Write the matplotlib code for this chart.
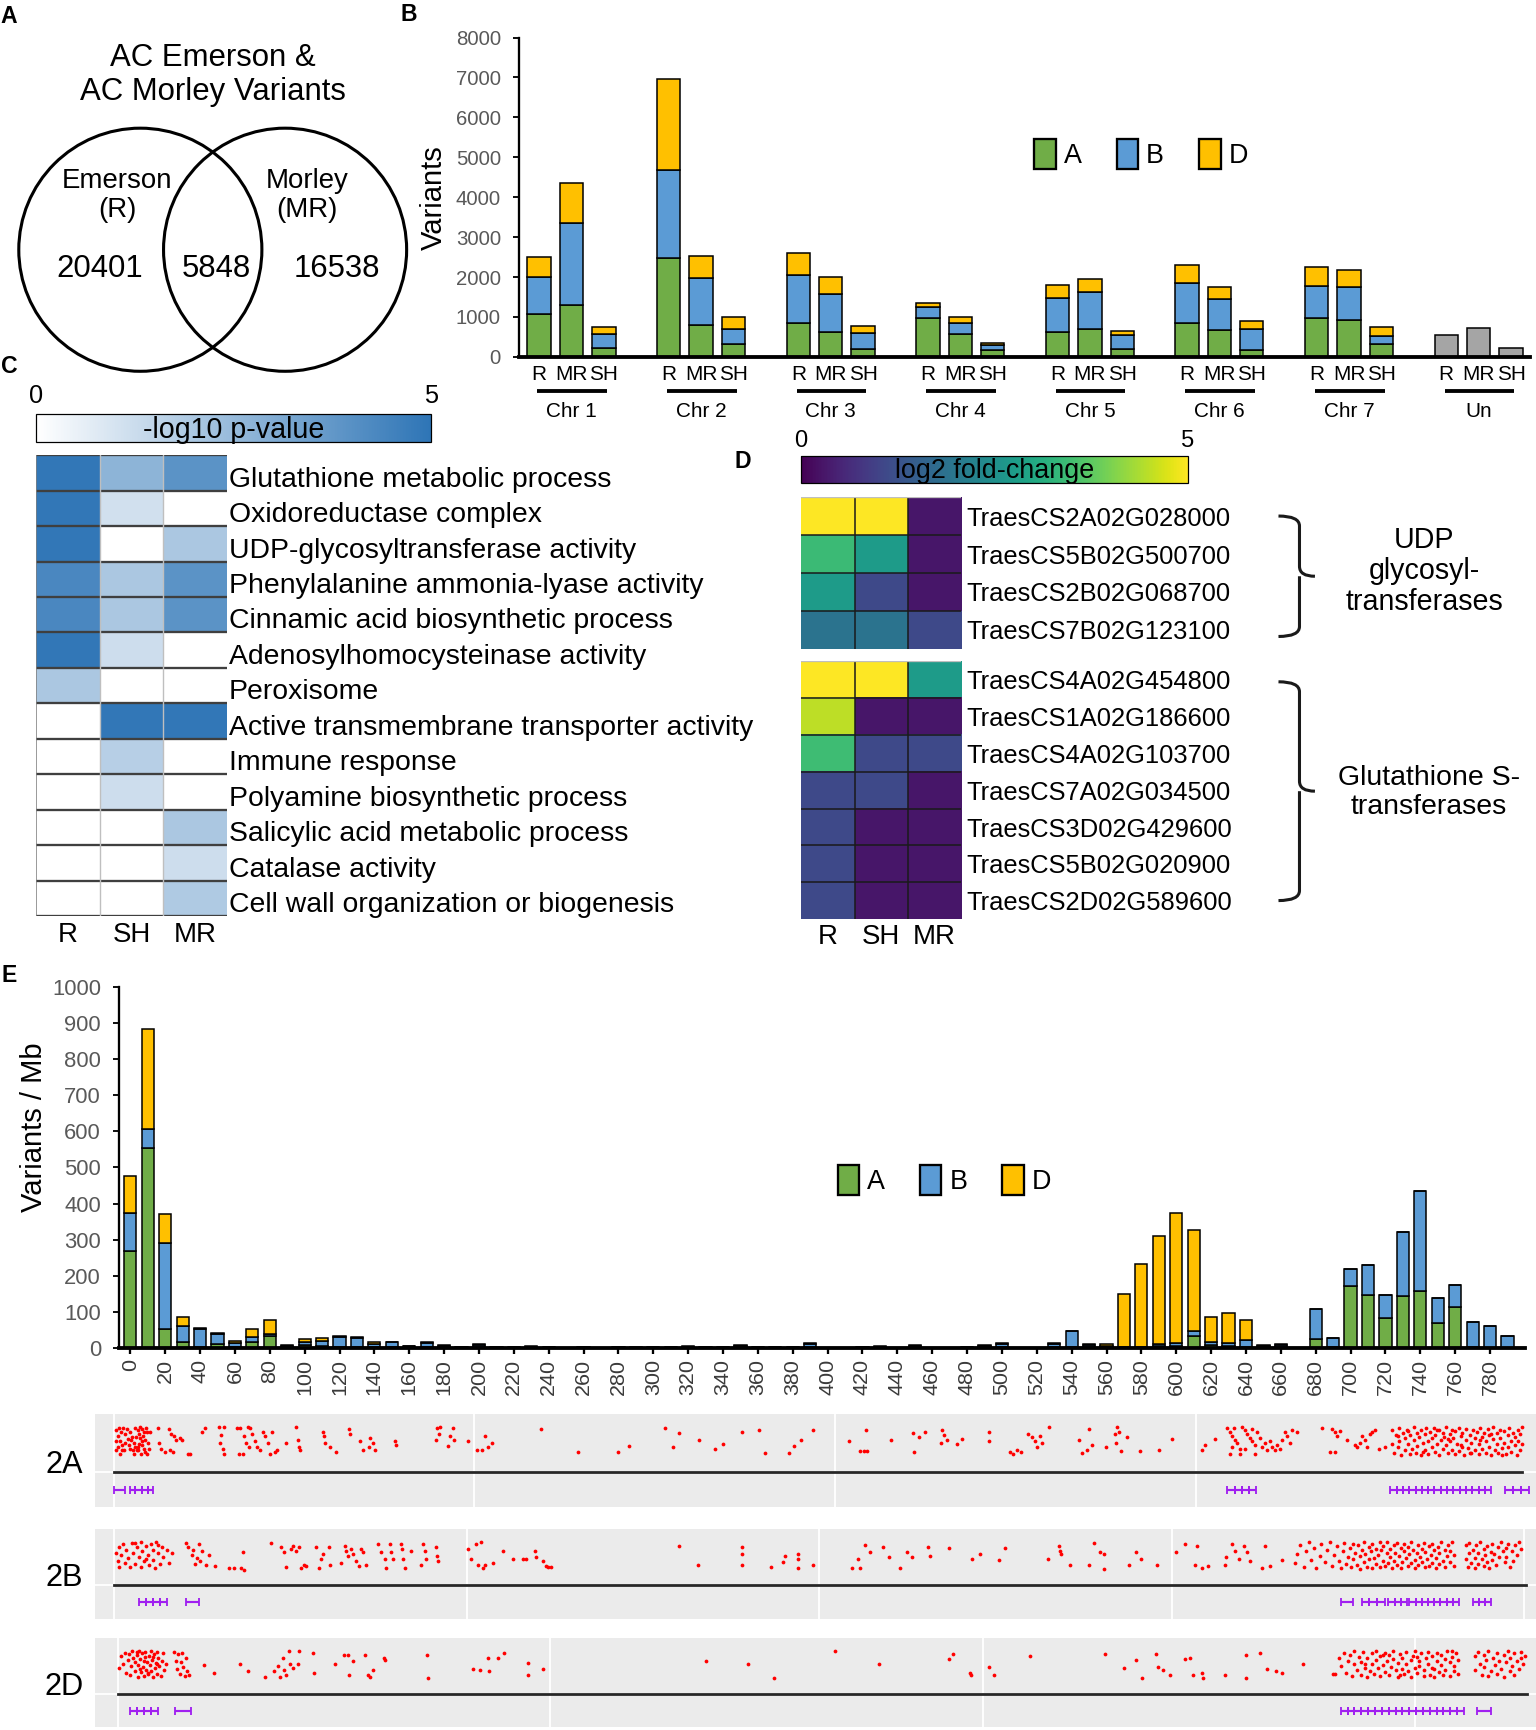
import matplotlib

matplotlib.use("Agg")
import matplotlib.pyplot as plt  # noqa: E402
import matplotlib.transforms as mtransforms  # noqa: E402
import numpy as np  # noqa: E402
from matplotlib.cm import ScalarMappable  # noqa: E402
from matplotlib.colors import LinearSegmentedColormap, Normalize  # noqa: E402
from matplotlib.patches import Circle, Patch, PathPatch  # noqa: E402
from matplotlib.path import Path  # noqa: E402

plt.rcParams["font.family"] = ["Liberation Sans", "DejaVu Sans"]

# canvas in "reference pixels" (reference is 1536x1730 at 1.105 scale)
DPI = 110.5
W, H = 1536 / 1.105, 1730 / 1.105

GREEN, BLUE, GOLD, GREY = "#70AD47", "#5B9BD5", "#FFC000", "#A5A5A5"
TICK_GREY = "#595959"

# ---------------- A: Venn counts ----------------
venn_only_R = 20401
venn_shared = 5848
venn_only_MR = 16538

# ---------------- B: variants per chromosome ----------------
chroms = ["Chr 1", "Chr 2", "Chr 3", "Chr 4", "Chr 5", "Chr 6", "Chr 7", "Un"]
cultivars = ["R", "MR", "SH"]
b_A = [1070, 1300, 235, 2470, 810, 335, 855, 630, 190, 965, 585, 185,
       630, 710, 195, 840, 670, 185, 980, 920, 320]
b_B = [940, 2050, 335, 2200, 1175, 375, 1195, 945, 420, 290, 270, 110,
       835, 905, 350, 1020, 770, 510, 805, 820, 210]
b_D = [500, 1000, 185, 2300, 545, 295, 560, 435, 170, 100, 150, 60,
       335, 330, 100, 445, 320, 200, 455, 435, 225]
b_un = [560, 730, 235]

# ---------------- C: GO enrichment ----------------
go_terms = [
    "Glutathione metabolic process", "Oxidoreductase complex",
    "UDP-glycosyltransferase activity", "Phenylalanine ammonia-lyase activity",
    "Cinnamic acid biosynthetic process", "Adenosylhomocysteinase activity",
    "Peroxisome", "Active transmembrane transporter activity",
    "Immune response", "Polyamine biosynthetic process",
    "Salicylic acid metabolic process", "Catalase activity",
    "Cell wall organization or biogenesis",
]
go_cols = ["R", "SH", "MR"]
go_R = [4.9, 4.9, 4.9, 4.3, 4.3, 4.9, 2.0, 0, 0, 0, 0, 0, 0]
go_SH = [2.7, 1.1, 0, 2.0, 2.0, 1.2, 0, 4.9, 1.7, 1.2, 0, 0, 0]
go_MR = [3.9, 0, 2.0, 3.9, 3.9, 0, 0, 4.9, 0, 0, 2.0, 1.2, 1.9]

# ---------------- D: fold changes ----------------
udp_genes = ["TraesCS2A02G028000", "TraesCS5B02G500700",
             "TraesCS2B02G068700", "TraesCS7B02G123100"]
udp_R = [5.0, 3.4, 2.75, 1.9]
udp_SH = [5.0, 2.75, 1.1, 1.9]
udp_MR = [0.3, 0.3, 0.3, 1.1]
gst_genes = ["TraesCS4A02G454800", "TraesCS1A02G186600", "TraesCS4A02G103700",
             "TraesCS7A02G034500", "TraesCS3D02G429600", "TraesCS5B02G020900",
             "TraesCS2D02G589600"]
gst_R = [5.0, 4.5, 3.45, 1.1, 1.1, 1.1, 1.1]
gst_SH = [5.0, 0.3, 1.1, 1.1, 0.3, 0.3, 0.3]
gst_MR = [2.75, 0.3, 1.1, 0.3, 0.3, 0.3, 0.3]

# ---------------- E: variants / Mb along chr 2 (10 Mb bins) ----------------
e_A = [270, 555, 53, 18, 2, 12, 3, 18, 33, 3, 8, 6, 3, 2, 3, 2, 2, 4, 2, 1,
       3, 1, 1, 2, 1, 0, 1, 0, 1, 1, 1, 1, 2, 1, 1, 3, 1, 1, 1, 3,
       1, 1, 1, 1, 1, 2, 1, 1, 1, 2, 3, 1, 1, 3, 3, 3, 2, 1, 2, 5,
       5, 34, 8, 5, 3, 2, 3, 0, 25, 2, 172, 148, 83, 144, 157, 70, 115, 2, 1, 1]
e_B = [105, 50, 237, 44, 51, 28, 12, 12, 5, 3, 8, 13, 27, 27, 9, 15, 3, 10, 4, 1,
       5, 1, 1, 2, 1, 1, 1, 1, 1, 0, 1, 1, 2, 1, 1, 3, 1, 1, 1, 9,
       0, 0, 1, 3, 0, 4, 0, 0, 1, 4, 8, 0, 0, 8, 45, 5, 4, 1, 2, 5,
       8, 12, 8, 10, 20, 4, 6, 1, 84, 26, 46, 81, 65, 178, 277, 68, 60, 71, 61, 32]
e_D = [100, 277, 80, 25, 2, 2, 5, 23, 40, 3, 9, 8, 3, 1, 4, 1, 2, 3, 2, 1,
       3, 1, 1, 2, 1, 0, 0, 0, 0, 1, 0, 1, 1, 0, 1, 3, 1, 1, 1, 3,
       0, 0, 1, 1, 0, 2, 0, 0, 1, 2, 3, 0, 0, 2, 0, 2, 4, 148, 230, 300,
       360, 282, 71, 82, 56, 2, 3, 0, 0, 0, 0, 0, 0, 0, 0, 0, 0, 0, 0, 0]
e_bin_mb = list(range(0, 800, 10))

# ---------------- tracks: variant positions (Mb, jitter level 0-10) ----------------
chr_len = {"2A": 780.8, "2B": 801.3, "2D": 651.9}
dots_2A = [
    (1.2, 8.8), (2.9, 9.4), (4.0, 8.1), (2.3, 6.9), (3.5, 5.0), (2.1, 3.1), (4.8, 1.9),
    (3.5, 0.6), (6.2, 7.5), (7.6, 9.1), (9.0, 8.1), (9.6, 5.6), (8.4, 3.8), (10.4, 1.9),
    (11.2, 0.6), (11.8, 9.6), (13.2, 8.8), (14.0, 7.5), (14.5, 6.3), (15.4, 5.0),
    (15.9, 3.8), (16.8, 2.5), (17.3, 1.3), (17.9, 9.6), (18.7, 8.1), (15.1, 0.6),
    (13.2, 3.1), (11.2, 4.6), (12.3, 6.6), (6.2, 4.4), (5.7, 1.9), (19.0, 4.4),
    (19.5, 2.5), (10.1, 6.6), (15.9, 9.1), (17.3, 5.6), (13.7, 1.9), (16.5, 8.1),
    (11.8, 3.1), (7.9, 5.9), (4.6, 3.8), (1.5, 1.9), (18.2, 0.6), (14.6, 9.8),
    (12.8, 2.2), (16.0, 6.8), (9.2, 2.4), (5.2, 9.5), (1.0, 5.2), (13.9, 4.2),
    (20.1, 8.1), (24.3, 9.4), (25.1, 4.4), (26.2, 2.5), (28.4, 1.3), (30.6, 9.1),
    (31.7, 7.5), (32.6, 1.3), (33.4, 6.9), (34.5, 5.6), (36.7, 6.3), (38.1, 5.6),
    (40.9, 0.6), (42.3, 0.6), (31.2, 1.9), (49.2, 8.1), (50.6, 9.6),
    (58.4, 10.0), (59.5, 7.1), (61.1, 10.0), (58.9, 4.4), (60.3, 2.5), (61.1, 0.6),
    (68.6, 9.6), (70.0, 9.4), (72.2, 6.9), (73.3, 4.4), (74.2, 10.0), (75.6, 9.4),
    (76.9, 7.5), (78.3, 5.0), (79.7, 3.1), (81.1, 1.9), (82.5, 8.1), (83.9, 6.9),
    (85.3, 4.4), (86.6, 0.6), (88.0, 8.1), (89.4, 1.3), (90.8, 1.9), (71.4, 0.6),
    (69.5, 0.6), (75.0, 3.1), (95.5, 4.4), (101.1, 10.0), (101.9, 5.6), (102.7, 3.1),
    (103.3, 1.9), (115.8, 8.1), (116.6, 6.9), (117.1, 4.4), (119.9, 3.1), (123.2, 1.3),
    (130.2, 9.1), (131.0, 7.5), (136.6, 5.0), (138.0, 1.9), (142.1, 6.3), (143.5, 4.4),
    (144.9, 1.9), (141.5, 3.1), (156.0, 5.0), (156.8, 3.8), (179.5, 9.4), (180.9, 10.0),
    (178.7, 5.6), (180.4, 7.5), (186.5, 6.9), (187.9, 9.4), (188.7, 5.6), (185.6, 3.4),
    (196.2, 5.0), (201.7, 1.9), (204.5, 1.9), (205.9, 6.9), (207.3, 3.1), (210.0, 4.4),
    (237.2, 9.1), (257.2, 1.3), (279.4, 1.3), (285.7, 3.4), (305.7, 9.4), (309.9, 3.1),
    (313.5, 7.9), (324.6, 5.4), (333.4, 2.5), (338.1, 4.1), (348.7, 8.3), (357.6, 8.9),
    (361.2, 1.0), (374.4, 0.9), (377.2, 3.4), (381.0, 5.6), (388.0, 8.8), (407.7, 5.0),
    (413.8, 1.6), (416.0, 1.6), (417.9, 1.6), (417.4, 8.8), (431.2, 5.6), (443.4, 7.8),
    (443.7, 1.3), (446.5, 6.6), (449.8, 8.1), (459.5, 8.8), (460.3, 7.1), (458.7, 4.4),
    (462.3, 5.4), (467.8, 4.1), (470.6, 5.9), (485.3, 8.1), (485.3, 5.0), (497.0, 1.3),
    (498.9, 0.6), (501.1, 1.9), (503.1, 1.3), (507.2, 7.5), (509.4, 6.6), (510.8, 5.0),
    (512.2, 3.1), (513.6, 6.9), (515.0, 4.4), (518.6, 9.8), (535.2, 5.6), (537.2, 0.9),
    (539.9, 2.1), (540.8, 9.1), (542.7, 3.8), (550.2, 3.1), (555.2, 7.5), (556.6, 10.0),
    (557.4, 8.1), (555.7, 4.4), (562.1, 6.6), (558.5, 1.6), (569.0, 1.6), (579.6, 2.1),
    (587.1, 5.9), (603.7, 1.9), (605.1, 3.8), (610.6, 5.9), (617.6, 9.4), (619.0, 8.1),
    (620.4, 6.9), (621.7, 5.6), (623.1, 4.4), (624.5, 2.5), (625.9, 10.0), (627.3, 8.8),
    (628.7, 7.5), (630.1, 6.3), (631.4, 5.0), (632.8, 3.8), (634.2, 8.1), (619.0, 0.6),
    (624.5, 0.6), (632.8, 0.6), (637.0, 3.1), (638.4, 4.4), (639.8, 1.9), (641.2, 5.0),
    (642.5, 3.1), (643.9, 1.9), (645.3, 3.8), (646.7, 2.5), (648.1, 5.6), (649.5, 8.1),
    (650.9, 6.9), (652.2, 4.4), (653.6, 8.8), (656.4, 8.1), (620.4, 3.1), (627.3, 2.5),
    (621.2, 9.6), (631.4, 9.1), (635.6, 6.3), (670.3, 9.6), (674.4, 1.3), (677.2, 1.3),
    (675.8, 9.1), (677.2, 8.1), (678.6, 6.9), (680.0, 8.4), (684.1, 5.6), (688.3, 3.8),
    (691.1, 4.4), (692.4, 6.9), (693.8, 5.6), (695.2, 3.1), (696.6, 7.5), (698.0, 8.1),
    (699.4, 8.8), (689.7, 3.1), (701.6, 2.5), (705.0, 3.1),
    (709, 9.0), (709, 4.0), (710, 1.0), (711, 7.0), (712, 3.0), (713, 9.5), (713, 5.0),
    (714, 0.5), (715, 8.0), (716, 2.0), (716, 6.0), (717, 9.0), (718, 4.0), (719, 0.8),
    (719, 7.0), (720, 2.5), (721, 9.8), (721, 5.5), (722, 1.0), (723, 8.0), (723, 3.5),
    (724, 6.5), (725, 0.4), (725, 9.0), (726, 4.5), (727, 7.5), (727, 2.0), (728, 9.5),
    (729, 5.0), (729, 0.7), (730, 8.3), (731, 3.0), (731, 6.0), (732, 9.6), (733, 1.5),
    (733, 7.0), (734, 4.0), (735, 9.0), (735, 0.5), (736, 5.5), (737, 8.0), (737, 2.5),
    (738, 6.5), (739, 9.8), (739, 3.8), (740, 1.0), (741, 7.5), (741, 5.0), (742, 9.0),
    (742, 2.0), (743, 6.0), (744, 0.6), (744, 8.5), (745, 4.0), (746, 9.5), (746, 1.8),
    (747, 6.8), (748, 3.0), (748, 8.0), (749, 0.5), (750, 5.5), (750, 9.3), (751, 2.8),
    (752, 7.2), (753, 1.0), (753, 4.6), (754, 9.0), (755, 6.0), (755, 2.0), (756, 8.2),
    (757, 0.6), (757, 4.0), (758, 9.7), (759, 6.5), (759, 2.5), (760, 8.0), (761, 1.0),
    (761, 5.0), (762, 9.2), (763, 3.0), (763, 7.0), (764, 0.5), (765, 5.8), (765, 9.8),
    (766, 2.0), (767, 7.8), (767, 4.2), (768, 0.9), (769, 9.0), (769, 6.0), (770, 2.6),
    (771, 8.5), (771, 4.5), (772, 0.6), (773, 7.0), (773, 3.0), (774, 9.6), (775, 5.2),
    (775, 1.2), (776, 8.0), (777, 3.6), (777, 6.5), (778, 0.4), (779, 9.0), (779, 5.0),
    (780, 2.0), (780, 7.5), (781, 9.8), (781, 4.0), (712, 6.8), (718, 8.6), (726, 1.4),
    (734, 8.8), (740, 5.8), (747, 3.8), (752, 0.9), (758, 5.6), (764, 7.6), (770, 0.4),
]
dots_2B = [
    (1, 6.0), (2, 3.0), (3, 8.0), (3, 1.0), (4, 5.0), (5, 9.0), (6, 2.5), (7, 7.0),
    (8, 4.0), (9, 0.8), (10, 9.5), (11, 6.0), (12, 2.0), (13, 8.0), (14, 4.5), (15, 1.0),
    (15, 9.8), (16, 6.5), (17, 3.0), (18, 8.5), (19, 5.0), (20, 1.5), (21, 9.0), (22, 7.0),
    (22, 3.5), (23, 0.7), (24, 9.6), (25, 6.0), (26, 2.0), (27, 8.0), (28, 4.5), (30, 7.0),
    (31, 2.5), (33, 6.0), (41, 9.5), (42, 8.0), (44, 5.0), (45, 7.0), (46, 2.0), (47, 4.0),
    (48, 9.0), (49, 3.0), (50, 6.5), (52, 1.5), (54, 5.0), (12, 9.4), (18, 3.8), (25, 8.8),
    (57.4, 1.2), (65.0, 0.6), (67.8, 0.6), (72.1, 0.6), (73.5, 0.0), (72.9, 6.1),
    (89.1, 9.5), (94.7, 7.9), (96.2, 6.1), (97.6, 1.0), (100.4, 7.3), (101.8, 8.5),
    (103.2, 6.7), (104.7, 7.9), (106.1, 0.6), (107.5, 1.8), (108.9, 1.2), (114.6, 7.9),
    (116.0, 0.6), (117.4, 3.7), (118.8, 5.5), (121.7, 7.9), (122.5, 1.8), (128.7, 2.4),
    (131.0, 8.5), (131.6, 6.7), (133.0, 4.9), (134.4, 7.3), (135.8, 5.5), (137.2, 3.0),
    (138.7, 1.2), (140.1, 7.3), (141.5, 6.1), (142.9, 1.8), (150.0, 9.1), (151.4, 6.1),
    (153.7, 3.7), (154.2, 0.6), (156.5, 9.1), (157.1, 6.1), (158.5, 3.7), (162.7, 9.1),
    (163.6, 7.3), (164.2, 3.7), (165.0, 0.6), (168.4, 6.7), (174.1, 1.8), (175.5, 9.1),
    (176.3, 6.7), (176.9, 3.7), (182.6, 7.9), (183.1, 4.9), (184.0, 3.0), (201.0, 7.3),
    (202.4, 3.7), (205.2, 9.1), (206.6, 1.8), (208.1, 9.8), (209.5, 0.6), (210.3, 1.8),
    (215.1, 2.4), (220.8, 6.7), (226.5, 3.7), (232.1, 3.7), (233.6, 3.9), (238.7, 6.7),
    (239.2, 4.3), (243.5, 3.0), (244.9, 1.2), (246.3, 1.0), (247.7, 1.0), (320.5, 8.5),
    (331.3, 1.8), (356.2, 7.9), (356.2, 5.5), (356.2, 1.8), (372.9, 1.0),
    (379.5, 2.7), (380.4, 4.9), (388.0, 5.5), (388.0, 3.7), (388.0, 0.6), (396.5, 1.8),
    (418.6, 0.6), (422.0, 3.7), (423.5, 0.6), (426.3, 8.8), (429.1, 6.1), (436.2, 7.9),
    (439.9, 4.6), (446.1, 0.6), (449.8, 6.1), (452.6, 4.3), (462.0, 7.9), (463.1, 4.9),
    (473.6, 7.7), (486.6, 3.7), (491.5, 5.5), (502.2, 3.3), (505.6, 7.7), (529.7, 3.7),
    (536.2, 8.5), (536.8, 6.7), (537.3, 5.5), (542.4, 1.8), (553.2, 1.6), (555.8, 9.5),
    (559.4, 6.1), (561.7, 5.5), (561.7, 0.4), (575.9, 1.8), (579.9, 6.1), (582.7, 3.7),
    (591.5, 1.8), (602.8, 6.1), (607.6, 9.1), (613.3, 1.8), (614.7, 8.3), (617.5, 0.6),
    (620.4, 1.2), (630.3, 1.8), (631.1, 4.3), (634.5, 9.1), (635.9, 6.7), (638.2, 3.7),
    (641.0, 8.5), (643.0, 6.1), (644.4, 3.0), (652.9, 8.5), (651.5, 0.6), (655.8, 1.2),
    (662.9, 3.4),
    (670, 2.2), (671, 5.5), (673, 8.8), (675, 1.0), (676, 6.5), (678, 9.6), (679, 3.5),
    (681, 7.8), (682, 0.6), (684, 4.8), (685, 9.2), (687, 2.6), (688, 6.8), (690, 9.8),
    (691, 1.4), (692, 5.0), (694, 8.2), (695, 3.0), (696, 0.5), (697, 6.4), (698, 9.4),
    (699, 2.0), (700, 4.4), (701, 7.6), (702, 0.8), (703, 9.0), (703, 3.6), (704, 6.0),
    (705, 1.6), (706, 8.6), (707, 4.8), (707, 0.4), (708, 7.0), (709, 2.8), (709, 9.8),
    (710, 5.6), (711, 1.0), (712, 8.0), (712, 3.8), (713, 6.4), (714, 0.6), (714, 9.2),
    (715, 4.2), (716, 7.4), (716, 2.0), (717, 5.2), (718, 9.6), (718, 0.9), (719, 6.8),
    (720, 3.2), (720, 8.4), (721, 1.4), (722, 5.8), (722, 9.8), (723, 2.4), (724, 7.2),
    (724, 4.4), (725, 0.5), (726, 8.8), (726, 3.0), (727, 6.0), (728, 1.8), (728, 9.4),
    (729, 4.8), (730, 7.6), (730, 0.7), (731, 2.6), (732, 6.6), (732, 9.0), (733, 4.0),
    (734, 1.2), (734, 8.0), (735, 5.4), (736, 2.2), (736, 9.7), (737, 7.0), (738, 3.4),
    (738, 0.5), (739, 5.8), (740, 8.6), (740, 1.6), (741, 4.6), (742, 7.4), (742, 2.8),
    (743, 9.4), (744, 0.9), (744, 6.2), (745, 3.8), (746, 8.2), (746, 1.2), (747, 5.0),
    (748, 9.0), (748, 2.4), (749, 6.8), (750, 0.6), (750, 4.2), (751, 8.0), (752, 2.0),
    (752, 6.0), (753, 9.6), (754, 3.2), (755, 7.0), (755, 0.8), (756, 4.8), (757, 8.8),
    (758, 2.6), (758, 6.4), (759, 9.8), (760, 1.4), (760, 5.2), (767, 3.8), (767, 8.6),
    (768, 0.8), (769, 5.8), (769, 9.4), (770, 2.4), (771, 7.0), (772, 4.2), (772, 0.6),
    (773, 8.8), (774, 2.0), (774, 6.0), (775, 9.6), (776, 3.6), (777, 7.4), (777, 1.2),
    (778, 5.0), (779, 8.4), (779, 2.8), (780, 0.7), (781, 6.2), (782, 9.2), (782, 3.4),
    (783, 5.6), (784, 1.8), (785, 8.0), (786, 4.4), (787, 9.6), (788, 6.6), (789, 2.6),
    (790, 7.8), (790, 4.6), (791, 9.0), (792, 1.0), (793, 6.4), (794, 3.0), (795, 8.6),
    (796, 5.2), (797, 9.8), (798, 7.2),
]
dots_2D = [
    (0.5, 3.6), (1.5, 7.8), (2.2, 5.0), (3.0, 9.0), (3.8, 2.0), (4.4, 6.4), (5.0, 8.6),
    (5.5, 1.0), (6.0, 4.2), (6.6, 9.6), (7.0, 7.0), (7.6, 2.6), (8.0, 5.6), (8.5, 8.2),
    (9.0, 0.6), (9.4, 4.6), (9.8, 9.8), (10.2, 6.8), (10.6, 2.2), (11.0, 8.8), (11.4, 4.0),
    (11.8, 0.8), (12.2, 7.4), (12.6, 9.4), (13.0, 3.0), (13.4, 5.8), (13.8, 1.4),
    (14.2, 8.0), (14.6, 4.8), (15.0, 9.8), (15.4, 2.4), (15.8, 6.6), (16.2, 0.5),
    (16.6, 8.6), (17.0, 3.6), (17.4, 5.4), (17.8, 9.2), (18.2, 1.6), (18.6, 7.2),
    (19.0, 4.4), (19.6, 0.8), (20.2, 6.0), (20.8, 8.8), (21.4, 2.8), (22.0, 5.0),
    (12.0, 6.2), (14.0, 2.0), (16.0, 7.6), (10.0, 3.4), (8.8, 9.2), (18.0, 5.2),
    (26.0, 9.4), (26.6, 6.2), (27.2, 3.2), (27.8, 8.6), (28.4, 1.6), (29.0, 5.6),
    (29.6, 9.0), (30.2, 4.0), (30.8, 0.8), (31.4, 7.0), (32.0, 2.6), (32.8, 1.0),
    (39.8, 4.6), (44.4, 1.8), (56.4, 5.2), (59.9, 2.7), (68.0, 0.6), (72.2, 2.4),
    (73.8, 4.3), (74.9, 0.6), (76.1, 7.3), (76.8, 3.0), (77.7, 1.2), (79.1, 9.5),
    (79.6, 4.9), (80.7, 3.7), (83.1, 4.9), (83.7, 9.5), (90.0, 9.1), (90.4, 1.8),
    (100.4, 4.9), (104.6, 8.3), (106.2, 8.3), (106.7, 1.2), (108.5, 6.1), (114.3, 8.3),
    (115.4, 1.2), (116.6, 0.6), (117.8, 3.0), (123.1, 7.1), (123.6, 6.3), (142.8, 8.3),
    (143.2, 0.2), (164.1, 3.4), (167.5, 3.0), (171.0, 7.3), (171.7, 2.4), (175.6, 7.1),
    (178.6, 8.8), (189.5, 5.5), (189.5, 1.2), (196.5, 3.4), (272.2, 6.1), (291.4, 5.1),
    (303.6, 0.2), (331.8, 9.5), (352.2, 5.2), (384.6, 6.7), (386.2, 8.5), (394.3, 1.8),
    (394.8, 1.2), (403.1, 3.9), (405.0, 1.0), (422.1, 7.8), (456.8, 8.5), (465.2, 3.7),
    (470.7, 6.5), (473.5, 0.2), (480.0, 8.5), (481.1, 3.9), (483.5, 3.0), (486.5, 1.2),
    (493.4, 6.7), (495.7, 7.3), (497.3, 1.2), (501.3, 1.8), (501.7, 0.2), (511.9, 1.0),
    (521.7, 8.3), (521.7, 0.2), (528.1, 8.8), (531.4, 3.3), (535.5, 2.4), (538.3, 1.8),
    (548.3, 4.9), (562.2, 1.5),
    (563, 1.4), (565, 7.2), (566, 4.4), (567, 9.0), (568, 2.0), (569, 6.0), (570, 8.4),
    (571, 0.8), (572, 5.0), (572, 9.8), (573, 3.0), (574, 7.4), (575, 1.2), (575, 5.8),
    (576, 9.2), (577, 3.8), (578, 7.0), (578, 0.5), (579, 2.6), (580, 8.8), (580, 5.2),
    (581, 1.6), (582, 6.6), (582, 9.6), (583, 3.6), (584, 7.8), (584, 0.9), (585, 4.6),
    (586, 9.0), (586, 2.2), (587, 6.2), (588, 8.2), (588, 1.0), (589, 4.0), (590, 9.8),
    (590, 6.8), (591, 2.8), (592, 0.6), (592, 5.4), (593, 8.6), (594, 3.2), (594, 7.2),
    (595, 1.4), (596, 9.4), (596, 5.0), (597, 2.4), (598, 6.6), (598, 0.5), (599, 8.0),
    (600, 3.8), (600, 9.8), (601, 1.8), (602, 6.0), (602, 4.2), (603, 8.8), (604, 0.8),
    (604, 2.8), (605, 7.0), (606, 5.2), (606, 9.4), (607, 1.2), (608, 3.6), (608, 7.8),
    (609, 0.5), (610, 6.2), (610, 9.0), (611, 2.2), (612, 4.8), (612, 8.4), (613, 1.0),
    (614, 6.8), (614, 3.0), (615, 9.6), (616, 5.6), (616, 0.7), (617, 7.6), (618, 2.6),
    (618, 4.4), (619, 8.8), (620, 1.6), (620, 6.4), (577, 5.0), (585, 8.4), (593, 1.2),
    (601, 7.4), (609, 3.2), (617, 9.8),
    (628, 7.8), (628, 3.0), (629, 9.4), (630, 5.2), (631, 1.2), (632, 8.2), (632, 4.0),
    (633, 6.4), (634, 0.8), (634, 9.6), (635, 2.6), (636, 7.0), (637, 4.8), (638, 9.0),
    (638, 1.6), (639, 6.0), (640, 3.4), (641, 8.4), (641, 0.5), (642, 5.6), (643, 9.8),
    (644, 2.4), (644, 7.2), (645, 4.2), (646, 1.0), (646, 8.8), (647, 6.0), (648, 3.2),
    (649, 9.4), (649, 7.0), (650, 5.0), (651, 8.0),
]
# candidate intervals (start, end) in Mb
spans_2A = [(0, 6), (9, 12), (12, 15.5), (15.5, 19), (19, 22),
            (617.6, 621.6), (621.6, 625.6), (625.6, 629.6), (629.6, 633.6),
            (708, 711.5), (711.5, 715), (715, 718.5), (718.5, 722), (722, 725.5),
            (725.5, 729), (729, 732.5), (732.5, 736), (736, 739.5), (739.5, 743),
            (743, 746.5), (746.5, 750), (750, 753.5), (753.5, 757), (757, 760.5),
            (760.5, 764), (771.5, 776), (776, 780.5), (780.5, 785)]
spans_2B = [(14, 18), (18, 22), (22, 26), (26, 30), (41, 48), (696, 703),
            (708, 712.3), (712.3, 716.6), (716.6, 721), (723, 726.5), (726.5, 730),
            (730, 733.5), (735, 738.5), (738.5, 742), (742, 745.5), (745.5, 749),
            (749, 752.5), (752.5, 756), (756, 759.5), (759.5, 763),
            (771, 774.5), (774.5, 778), (778, 781.5)]
spans_2D = [(5.4, 8.6), (8.6, 11.9), (11.9, 15.1), (15.1, 18.4), (26.5, 33.5),
            (565.6, 568.8), (568.8, 572.0), (572.0, 575.1), (575.1, 578.3),
            (578.3, 581.5), (581.5, 584.7), (584.7, 587.8), (587.8, 591.0),
            (591.0, 594.2), (594.2, 597.3), (597.3, 600.5), (600.5, 603.7),
            (603.7, 606.9), (606.9, 610.0), (610.0, 613.2), (613.2, 616.4),
            (616.4, 619.5), (619.5, 622.7), (628.7, 635.3)]


def box(x0, y0, x1, y1):
    """Axes rectangle from reference-pixel corners (y downward)."""
    return [x0 / W, 1 - y1 / H, (x1 - x0) / W, (y1 - y0) / H]


fig = plt.figure(figsize=(1536 / DPI, 1730 / DPI), dpi=DPI)
ov = fig.add_axes([0, 0, 1, 1])
ov.set_xlim(0, W)
ov.set_ylim(H, 0)
ov.axis("off")

for lab, (x, y) in zip("ABCDE", [(8, 15), (370, 13), (8, 332), (672, 418), (8, 883)]):
    ov.text(x, y, lab, fontsize=15, fontweight="bold", ha="center", va="center")

# ---------------- A ----------------
ov.text(193, 68, "AC Emerson &\nAC Morley Variants", fontsize=20.3, ha="center",
        va="center", linespacing=1.2)
ov.add_patch(Circle((127, 226), 110, fill=False, lw=2, ec="black"))
ov.add_patch(Circle((258, 226), 110, fill=False, lw=2, ec="black"))
ov.text(106, 177, "Emerson\n(R)", fontsize=18, ha="center", va="center", linespacing=1.15)
ov.text(278, 177, "Morley\n(MR)", fontsize=18, ha="center", va="center", linespacing=1.15)
for x, v in [(90, venn_only_R), (196, venn_shared), (305, venn_only_MR)]:
    ov.text(x, 243, f"{v}", fontsize=20.3, ha="center", va="center")

# ---------------- B ----------------
axB = fig.add_axes(box(470, 34, 1385, 323))
pos = np.array([4 * g + j for g in range(7) for j in range(3)])
pos_un = np.array([28, 29, 30])
bA, bB, bD = np.array(b_A), np.array(b_B), np.array(b_D)
kw = dict(width=0.72, edgecolor="black", linewidth=1.0)
axB.bar(pos, bA, color=GREEN, **kw)
axB.bar(pos, bB, bottom=bA, color=BLUE, **kw)
axB.bar(pos, bD, bottom=bA + bB, color=GOLD, **kw)
axB.bar(pos_un, b_un, color=GREY, **kw)
axB.set_xlim(-0.61, 30.6)
axB.set_ylim(0, 8000)
axB.set_yticks(range(0, 8001, 1000))
axB.tick_params(axis="y", labelsize=13.3, labelcolor=TICK_GREY, length=4, width=1.2, pad=8)
axB.set_xticks(np.concatenate([pos, pos_un]))
axB.set_xticklabels(cultivars * 8, fontsize=13.5)
axB.tick_params(axis="x", length=0, pad=5)
for s in ["top", "right"]:
    axB.spines[s].set_visible(False)
axB.spines["left"].set_linewidth(1.5)
axB.spines["bottom"].set_linewidth(2.5)
axB.set_ylabel("Variants", fontsize=19)
axB.yaxis.set_label_coords(-0.071, 0.5)
trB = mtransforms.blended_transform_factory(axB.transData, axB.transAxes)
for g, name in enumerate(chroms):
    axB.plot([4 * g - 0.05, 4 * g + 2.1], [-0.108, -0.108], transform=trB,
             clip_on=False, color="black", lw=2.5, solid_capstyle="butt")
    axB.text(4 * g + 1, -0.17, name, transform=trB, ha="center", va="center", fontsize=13.5)
hB = [Patch(facecolor=c, edgecolor="black", linewidth=1.5) for c in (GREEN, BLUE, GOLD)]
axB.legend(hB, ["A", "B", "D"], loc="center", bbox_to_anchor=(0.615, 0.635), ncol=3,
           frameon=False, fontsize=17.5, handlelength=0.8, handleheight=1.3,
           handletextpad=0.3, columnspacing=1.3)

# ---------------- C ----------------
blues = LinearSegmentedColormap.from_list("wb", ["#FFFFFF", "#2E75B6"])
axCb = fig.add_axes(box(33, 375, 390, 400))
cb = fig.colorbar(ScalarMappable(Normalize(0, 5), blues), cax=axCb, orientation="horizontal")
cb.outline.set_linewidth(0.8)
axCb.xaxis.set_ticks_position("top")
cb.set_ticks([0, 5])
axCb.tick_params(length=0, labelsize=16.5, pad=4)
axCb.text(0.5, 0.45, "-log10 p-value", transform=axCb.transAxes, ha="center",
          va="center", fontsize=18.7)

axC = fig.add_axes(box(33, 412, 205, 829))
go = np.array([go_R, go_SH, go_MR]).T
axC.imshow(go, cmap=blues, vmin=0, vmax=5, aspect="auto", interpolation="nearest")
for y in np.arange(-0.5, len(go_terms)):
    axC.axhline(y, color="#3F3F3F", lw=1.5)
for x in [0.5, 1.5]:
    axC.axvline(x, color="#BFBFBF", lw=0.9)
axC.axvline(-0.5, color="#7F7F7F", lw=1.0)
for s in axC.spines.values():
    s.set_visible(False)
axC.yaxis.tick_right()
axC.set_yticks(range(len(go_terms)))
axC.set_yticklabels(go_terms, fontsize=18.5)
axC.set_xticks(range(3))
axC.set_xticklabels(go_cols, fontsize=18)
axC.tick_params(length=0, pad=1.5)
axC.tick_params(axis="x", pad=4)
# labels sit a few pixels below the row centres in the reference
shift = mtransforms.ScaledTranslation(0, -2.4 / 72, fig.dpi_scale_trans)
for t in axC.get_yticklabels():
    t.set_transform(t.get_transform() + shift)

# ---------------- D ----------------
axDb = fig.add_axes(box(725, 413, 1075, 437))
cbD = fig.colorbar(ScalarMappable(Normalize(0, 5), "viridis"), cax=axDb, orientation="horizontal")
cbD.outline.set_linewidth(0.8)
axDb.xaxis.set_ticks_position("top")
cbD.set_ticks([0, 5])
axDb.tick_params(length=0, labelsize=15.5, pad=3)
axDb.text(0.5, 0.45, "log2 fold-change", transform=axDb.transAxes, ha="center",
          va="center", fontsize=17.5)


def fold_heatmap(rect, genes, vals, show_cols):
    ax = fig.add_axes(box(*rect))
    ax.imshow(np.array(vals).T, cmap="viridis", vmin=0, vmax=5, aspect="auto",
              interpolation="nearest")
    for y in np.arange(0.5, len(genes) - 1):
        ax.axhline(y, color="#1A1A1A", lw=1.0)
    for x in [0.5, 1.5]:
        ax.axvline(x, color="#1A1A1A", lw=1.0)
    for s in ax.spines.values():
        s.set_visible(False)
    ax.axhline(-0.5, color="#BFBFBF", lw=1.5)
    ax.yaxis.tick_right()
    ax.set_yticks(range(len(genes)))
    ax.set_yticklabels(genes, fontsize=16.6)
    ax.set_xticks(range(3))
    ax.set_xticklabels(go_cols if show_cols else [""] * 3, fontsize=18)
    ax.tick_params(length=0, pad=3)
    return ax


fold_heatmap((725, 450, 870, 587), udp_genes, [udp_R, udp_SH, udp_MR], False)
fold_heatmap((725, 598, 870, 832), gst_genes, [gst_R, gst_SH, gst_MR], True)


def brace(x, y0, y1, stem=19, tip=33, r=9):
    ym = (y0 + y1) / 2
    xs, xt = x + stem, x + tip
    verts = [(x, y0), (xs, y0), (xs, y0 + r), (xs, ym - r), (xs, ym), (xt, ym),
             (xs, ym), (xs, ym + r), (xs, y1 - r), (xs, y1), (x, y1)]
    codes = [Path.MOVETO, Path.CURVE3, Path.CURVE3, Path.LINETO, Path.CURVE3, Path.CURVE3,
             Path.MOVETO, Path.CURVE3, Path.LINETO, Path.CURVE3, Path.CURVE3]
    ov.add_patch(PathPatch(Path(verts, codes), fill=False, lw=2, ec="#1A1A1A"))


brace(1157, 467, 576)
brace(1157, 617, 815)
ov.text(1289, 517, "UDP\nglycosyl-\ntransferases", fontsize=18.7, ha="center",
        va="center", linespacing=1.13)
ov.text(1293, 717, "Glutathione S-\ntransferases", fontsize=18.6, ha="center",
        va="center", linespacing=1.13)

# ---------------- E ----------------
axE = fig.add_axes(box(108, 893, 1380, 1220))
eA, eB, eD = np.array(e_A), np.array(e_B), np.array(e_D)
xb = np.arange(len(e_bin_mb))
kwE = dict(width=0.7, edgecolor="black", linewidth=1.0)
axE.bar(xb, eA, color=GREEN, **kwE)
axE.bar(xb, eB, bottom=eA, color=BLUE, **kwE)
axE.bar(xb, eD, bottom=eA + eB, color=GOLD, **kwE)
axE.set_xlim(-0.63, 80.0)
axE.set_ylim(0, 1000)
axE.set_yticks(range(0, 1001, 100))
axE.tick_params(axis="y", labelsize=14.3, labelcolor=TICK_GREY, length=4, width=1.2, pad=8)
axE.set_xticks(xb[::2])
axE.set_xticklabels([str(v) for v in e_bin_mb[::2]], rotation=90, fontsize=14,
                    color="#3A3A3A")
axE.tick_params(axis="x", length=4, width=1.5, pad=3)
for s in ["top", "right"]:
    axE.spines[s].set_visible(False)
axE.spines["left"].set_linewidth(1.5)
axE.spines["bottom"].set_linewidth(2.5)
axE.set_ylabel("Variants / Mb", fontsize=19)
axE.yaxis.set_label_coords(-0.051, 0.61)
axE.legend(hB, ["A", "B", "D"], loc="center", bbox_to_anchor=(0.587, 0.465), ncol=3,
           frameon=False, fontsize=17.5, handlelength=0.8, handleheight=1.3,
           handletextpad=0.3, columnspacing=1.3)

# ---------------- chromosome tracks ----------------
LINE_Y, SPAN_Y = -5.4, -11.5
tracks = [
    ("2A", (86, 1280, 1392, 1363.5), (-10.4, 790), dots_2A, spans_2A, [0, 200, 400, 600]),
    ("2B", (86, 1384, 1392, 1465), (-10.8, 808), dots_2B, spans_2B, [0, 200, 400, 600, 800]),
    ("2D", (86, 1482.5, 1392, 1563), (-10.7, 657), dots_2D, spans_2D, [0, 200, 400, 600]),
]
for name, rect, xl, dots, spans, grid in tracks:
    ax = fig.add_axes(box(*rect))
    ax.set_facecolor("#EBEBEB")
    ax.set_xlim(*xl)
    ax.set_ylim(-17.3, 14.2)
    ax.set_xticks(grid)
    ax.set_yticks([LINE_Y])
    ax.grid(True, color="white", lw=1.2)
    ax.set_axisbelow(True)
    ax.tick_params(length=0, labelbottom=False, labelleft=False)
    for s in ax.spines.values():
        s.set_visible(False)
    ax.plot([0, chr_len[name]], [LINE_Y, LINE_Y], color="#262626", lw=1.8)
    mb, lvl = zip(*dots)
    ax.scatter(mb, lvl, s=6, color="red", linewidths=0)
    st, en = np.array(spans).T
    ax.errorbar((st + en) / 2, np.full(len(st), SPAN_Y), xerr=(en - st) / 2, fmt="none",
                ecolor="#A020F0", elinewidth=1.4, capsize=2.8, capthick=1.2)
    ov.text(58, (rect[1] + rect[3]) / 2 + 4, name, fontsize=20, ha="center", va="center")

fig.savefig("out.png", dpi=DPI)
